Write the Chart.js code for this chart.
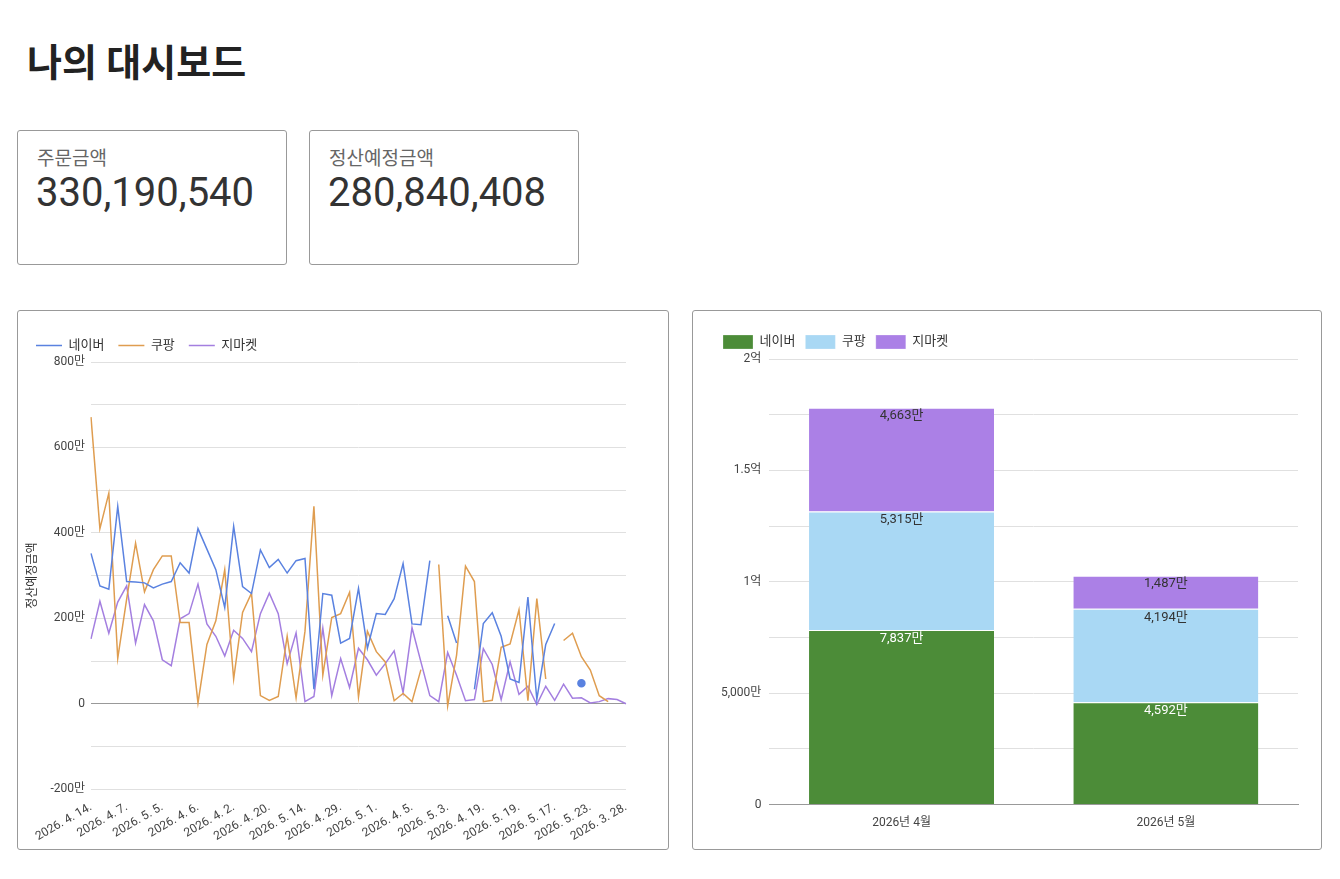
<!DOCTYPE html>
<html>
<head>
<meta charset="utf-8">
<script src="https://cdn.jsdelivr.net/npm/chart.js@4"></script>
<style>
  body { margin: 0; font-family: Roboto, "Noto Sans CJK KR", sans-serif; background: #fff; color: #222; }
  h1 { position: absolute; left: 27px; top: 32px; margin: 0; font-size: 38px; font-weight: bold; }
  .card { position: absolute; border: 1px solid #999; border-radius: 3px; box-sizing: border-box; background: #fff; }
  .kpi .lbl { position: absolute; left: 19px; top: 12px; font-size: 19px; color: #666; }
  .kpi .val { position: absolute; left: 18px; top: 38px; font-size: 40px; color: #333; }
  .chartbox { position: absolute; }
</style>
</head>
<body>
<h1>나의 대시보드</h1>
<div class="card kpi" style="left:17px;top:130px;width:270px;height:135px"><div class="lbl">주문금액</div><div class="val">330,190,540</div></div>
<div class="card kpi" style="left:309px;top:130px;width:270px;height:135px"><div class="lbl">정산예정금액</div><div class="val">280,840,408</div></div>
<div class="card" style="left:17px;top:310px;width:652px;height:540px"><div class="chartbox" style="left:4px;top:14px;width:630px;height:522px"><canvas id="lineChart"></canvas></div></div>
<div class="card" style="left:692px;top:310px;width:630px;height:540px"><div class="chartbox" style="left:20px;top:14px;width:590px;height:508px"><canvas id="barChart"></canvas></div></div>
<script>
// ===== LINE CHART DATA (values in 만원) =====
const tickDates = ["2026. 4. 14.", "2026. 4. 7.", "2026. 5. 5.", "2026. 4. 6.", "2026. 4. 2.", "2026. 4. 20.",
  "2026. 5. 14.", "2026. 4. 29.", "2026. 5. 1.", "2026. 4. 5.", "2026. 5. 3.", "2026. 4. 19.",
  "2026. 5. 19.", "2026. 5. 17.", "2026. 5. 23.", "2026. 3. 28."];
const naver = [352, 276, 268, 462, 286, 285, 283, 271, 280, 286, 330, 306, 410, 362, 314, 225, 415, 274, 258, 360,
  319, 338, 306, 335, 340, 34, 258, 254, 142, 153, 270, 130, 211, 209, 246, 328, 187, 185, 335, null,
  206, 142, null, 34, 188, 213, 158, 58, 50, 250, 10, 139, 188, null, null, 48, null, null, null, null, null];
const coupang = [671, 410, 493, 106, 245, 376, 262, 314, 346, 346, 190, 190, 2, 139, 194, 314, 58, 214, 259, 19,
  8, 17, 158, 14, 170, 462, 67, 202, 211, 261, 16, 170, 122, 98, 7, 24, 5, 80, null, 326,
  -5, 114, 322, 286, 5, 8, 132, 140, 220, 7, 246, 58, null, 148, 165, 110, 79, 19, 5, null, null];
const gmarket = [152, 240, 165, 238, 276, 142, 232, 194, 103, 89, 199, 211, 280, 187, 158, 112, 172, 153, 122, 211,
  259, 211, 94, 166, 5, 17, 177, 19, 106, 38, 130, 103, 67, 94, 124, 26, 178, 98, 19, 5,
  120, 67, 7, 10, 129, 92, 10, 98, 22, 41, -2, 41, 8, 46, 13, 14, 2, 5, 12, 10, 0];
const lineLabels = naver.map((_, i) => (i % 4 === 0 ? tickDates[i / 4] : ""));

// ===== BAR CHART DATA (values in 만원) =====
const months = ["2026년 4월", "2026년 5월"];
const barNaver = [7837, 4592];
const barCoupang = [5315, 4194];
const barGmarket = [4663, 1487];

const gridColor = "#e0e0e0";
const tickColor = "#444";
Chart.defaults.font.family = "Roboto, 'Noto Sans CJK KR', sans-serif";
Chart.defaults.font.size = 12;
Chart.defaults.color = tickColor;

function isolated(ctx) {
  const d = ctx.dataset.data, i = ctx.dataIndex;
  return d[i] != null && d[i - 1] == null && d[i + 1] == null ? 3.5 : 0;
}
function lineSet(label, data, color) {
  return { label, data, borderColor: color, backgroundColor: color, borderWidth: 1.5,
    tension: 0, pointRadius: isolated, pointHoverRadius: 3, spanGaps: false };
}

new Chart(document.getElementById("lineChart"), {
  type: "line",
  data: { labels: lineLabels, datasets: [
    lineSet("네이버", naver, "#5a82e0"),
    lineSet("쿠팡", coupang, "#df9d50"),
    lineSet("지마켓", gmarket, "#a47fe0")
  ] },
  options: {
    responsive: true, maintainAspectRatio: false, animation: false,
    layout: { padding: { right: 26 } },
    plugins: {
      legend: { position: "top", align: "start",
        labels: { boxWidth: 26, boxHeight: 0, padding: 14, font: { size: 13 }, color: "#333",
          generateLabels: chart => chart.data.datasets.map((ds, i) => ({
            text: ds.label, strokeStyle: ds.borderColor, fillStyle: ds.borderColor, lineWidth: 1.5, datasetIndex: i, fontColor: "#333" })) } },
      tooltip: { enabled: false }
    },
    scales: {
      x: { grid: { display: false }, border: { display: false },
        ticks: { autoSkip: false, maxRotation: 30, minRotation: 30, color: tickColor, font: { size: 12 } } },
      y: { min: -200, max: 800, border: { display: false },
        grid: { color: ctx => (ctx.tick.value === 0 ? "#999" : gridColor), drawTicks: false },
        ticks: { stepSize: 100, padding: 6, callback: v => (v % 200 === 0 ? (v === 0 ? "0" : v + "만") : "") },
        title: { display: true, text: "정산예정금액", font: { size: 12 }, color: "#333" } }
    }
  }
});

// labels inside stacked bar segments
const segLabels = {
  id: "segLabels",
  afterDatasetsDraw(chart) {
    const c = chart.ctx;
    c.save();
    c.font = "13px Roboto, 'Noto Sans CJK KR', sans-serif";
    c.textAlign = "center";
    c.textBaseline = "top";
    chart.data.datasets.forEach((ds, di) => {
      chart.getDatasetMeta(di).data.forEach((el, i) => {
        c.fillStyle = di === 0 ? "#fff" : "#333";
        c.fillText(ds.data[i].toLocaleString("en-US") + "만", el.x, el.y + 2);
      });
    });
    c.restore();
  }
};

function fmtEok(v) {
  if (v === 0) return "0";
  if (v % 5000 !== 0) return "";
  if (v < 10000) return v.toLocaleString("en-US") + "만";
  return (v / 10000) + "억";
}

new Chart(document.getElementById("barChart"), {
  type: "bar",
  data: { labels: months, datasets: [
    { label: "네이버", data: barNaver, backgroundColor: "#4c8c38" },
    { label: "쿠팡", data: barCoupang, backgroundColor: "#a9d8f4" },
    { label: "지마켓", data: barGmarket, backgroundColor: "#ab80e6" }
  ] },
  options: {
    responsive: true, maintainAspectRatio: false, animation: false,
    datasets: { bar: { categoryPercentage: 0.7, barPercentage: 1, borderColor: "#fff", borderWidth: { top: 1 } } },
    layout: { padding: { right: 5 } },
    plugins: {
      legend: { position: "top", align: "start",
        labels: { boxWidth: 30, boxHeight: 14, padding: 10, font: { size: 13 }, color: "#333" } },
      tooltip: { enabled: false }
    },
    scales: {
      x: { stacked: true, grid: { display: false }, border: { color: "#999" }, ticks: { color: tickColor } },
      y: { stacked: true, min: 0, max: 20000, border: { display: false },
        grid: { color: gridColor, drawTicks: false },
        ticks: { stepSize: 2500, padding: 8, autoSkip: false, callback: fmtEok } }
    }
  },
  plugins: [segLabels]
});
</script>
</body>
</html>
